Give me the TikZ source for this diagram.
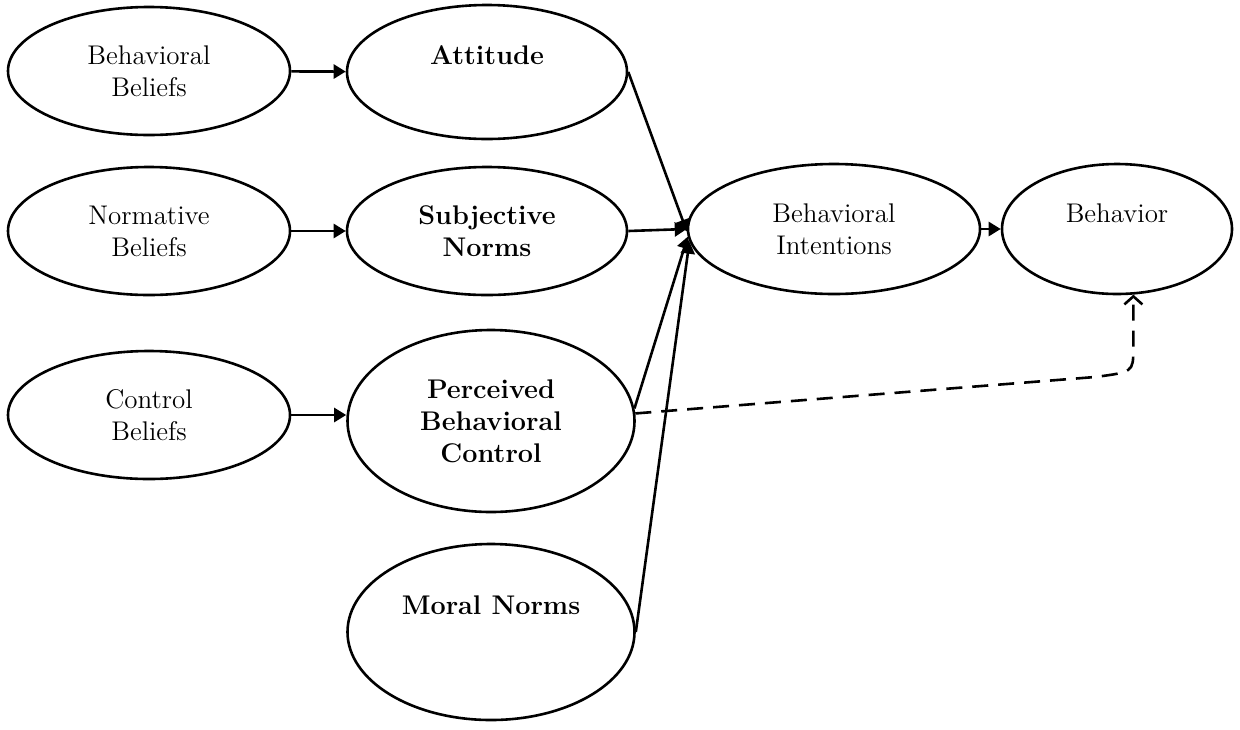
\documentclass[tikz,border=0pt]{standalone}
\usepackage{tikz}
\usetikzlibrary{arrows.meta}
\usetikzlibrary{shapes}
\usetikzlibrary{calc}

\begin{document}
\begin{tikzpicture}[x=0.5pt,y=-0.5pt]
            \tikzset{oval/.style = {ellipse, draw, line width=1.3pt, align=center, inner sep=0pt,
                                    font=\fontsize{13.5}{16}\selectfont}}
            \tikzset{bold/.style = {font=\fontsize{13.5}{16}\selectfont\bfseries, align=center}}
            \tikzset{link/.style = {line width=1.3pt, -{Triangle[length=6pt, width=7pt]}}}
            \tikzset{dashlink/.style = {line width=1.3pt, dash pattern=on 8pt off 5pt,
                                        -{Straight Barb[length=4pt, width=9pt]}}}
            \useasboundingbox (0,0) rectangle (1240,729);
            \node[oval, minimum width=141pt, minimum height=64pt] (bb) at (149,71) {Behavioral\\Beliefs};
            \node[oval, minimum width=140pt, minimum height=67pt] (att) at (487,72) {};
            \node[bold] (att-txt) at (487,55) {Attitude};
            \node[oval, minimum width=141pt, minimum height=64pt] (nb) at (149,231) {Normative\\Beliefs};
            \node[oval, bold, minimum width=140pt, minimum height=64pt] (sn) at (487,231) {Subjective\\Norms};
            \node[oval, minimum width=146pt, minimum height=65pt] (bi) at (834,229) {Behavioral\\Intentions};
            \node[oval, minimum width=115pt, minimum height=65pt] (beh) at (1117,229) {};
            \node[font=\fontsize{13.5}{16}\selectfont] (beh-txt) at (1117,213) {Behavior};
            \node[oval, minimum width=141pt, minimum height=64pt] (cb) at (149,415) {Control\\Beliefs};
            \node[oval, bold, minimum width=143.5pt, minimum height=91pt] (pbc) at (491,421) {Perceived\\Behavioral\\Control};
            \node[oval, minimum width=143.5pt, minimum height=88pt] (mn) at (491,632) {};
            \node[bold] (mn-txt) at (491,605) {Moral Norms};
            \draw[link] (bb) -- (att);
            \draw[link] (nb) -- (sn);
            \draw[link] (cb.east) -- (cb.east -| pbc.west);
            \draw[link] (att.east) -- (bi.181);
            \draw[link] (sn.east) -- (bi.west);
            \draw[link] (pbc.5) -- (bi.183);
            \draw[link] (mn.east) -- (bi.185);
            \draw[link] (bi) -- (beh);
            \draw[dashlink] (pbc.3) -- (1095,377) .. controls (1133,372) .. ($(beh.284)+(0,55)$) -- (beh.284);
        \end{tikzpicture}
\end{document}
